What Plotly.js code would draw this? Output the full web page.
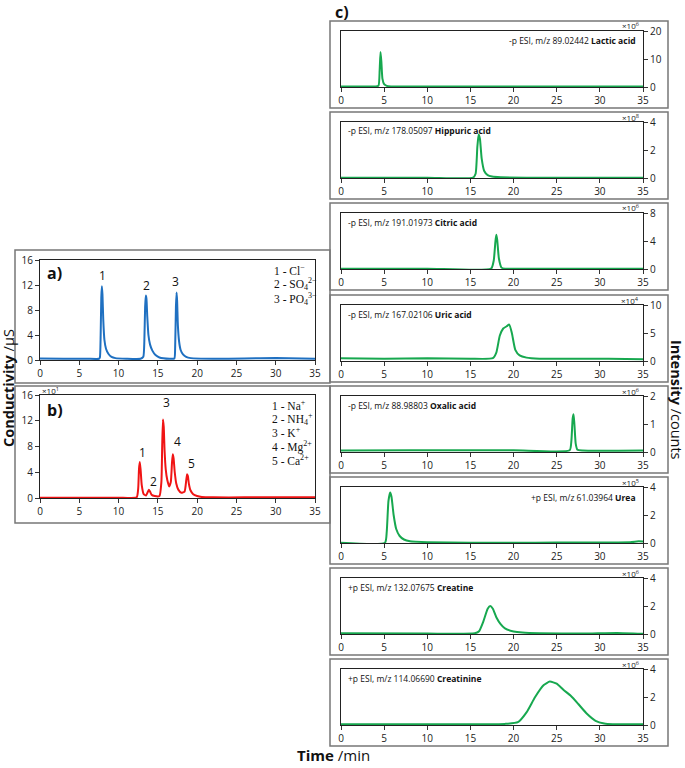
<!DOCTYPE html>
<html>
<head>
<meta charset="utf-8">
<script src="https://cdn.plot.ly/plotly-3.0.1.min.js"></script>
<style>
  body { margin: 0; background: #fff; }
  #container { width: 685px; height: 768px; }
</style>
</head>
<body>
<div id="container"></div>
<script>
// a) anions, conductivity /uS
var anionTime = [0, 3, 6, 7.5, 7.62, 7.72, 7.8, 7.87, 7.95, 8.05, 8.2, 8.4, 8.7, 9.1, 9.6, 11, 12.8, 13.15, 13.28, 13.38, 13.47, 13.55, 13.65, 13.8, 14.0, 14.3, 14.7, 15.2, 16.5, 17.1, 17.2, 17.3, 17.38, 17.45, 17.55, 17.7, 17.9, 18.2, 18.6, 19.2, 22, 26, 30, 35];
var anionSignal = [0.25, 0.2, 0.2, 0.2, 0.4, 4, 10, 11.8, 10.5, 6.5, 3.2, 1.8, 1.0, 0.5, 0.3, 0.2, 0.2, 0.5, 3, 8.5, 10.3, 9.8, 7.0, 4.0, 2.5, 1.5, 0.8, 0.4, 0.2, 0.25, 2, 8.5, 10.8, 9.5, 5.5, 3, 1.6, 0.9, 0.5, 0.3, 0.2, 0.25, 0.3, 0.2];
var anionPeakTime = [7.9, 13.5, 17.3];
var anionPeakLabelY = [13.6, 12.0, 12.5];
var anionLegend = ['1 - Cl<sup>\u2212</sup>', '2 - SO<sub>4</sub><sup>2\u2212</sup>', '3 - PO<sub>4</sub><sup>3\u2212</sup>'];

// b) cations, conductivity x10
var cationTime = [0, 5, 10, 12.3, 12.5, 12.6, 12.7, 12.8, 12.95, 13.2, 13.5, 13.7, 13.85, 14.0, 14.2, 14.6, 15.2, 15.45, 15.55, 15.65, 15.75, 15.85, 16.0, 16.2, 16.45, 16.65, 16.8, 16.9, 17.0, 17.15, 17.35, 17.6, 18.0, 18.4, 18.6, 18.72, 18.82, 18.95, 19.15, 19.5, 20, 20.6, 22, 26, 30, 35];
var cationSignal = [0.05, 0.05, 0.05, 0.1, 1.5, 4.5, 5.6, 4.5, 2.0, 0.6, 0.4, 0.9, 1.3, 1.0, 0.5, 0.3, 0.3, 2.5, 8, 12.2, 11, 7.5, 4.5, 2.8, 1.8, 2.5, 5.5, 6.8, 6.2, 4.0, 2.2, 1.3, 0.8, 1.0, 2.6, 3.7, 3.4, 2.2, 1.2, 0.6, 0.3, 0.15, 0.1, 0.1, 0.1, 0.1];
var cationPeakTime = [13.1, 14.4, 16.1, 17.5, 19.3];
var cationPeakLabelY = [7.1, 2.6, 14.9, 8.7, 5.4];
var cationLegend = ['1 - Na<sup>+</sup>', '2 - NH<sub>4</sub><sup>+</sup>', '3 - K<sup>+</sup>', '4 - Mg<sup>2+</sup>', '5 - Ca<sup>2+</sup>'];

// c) extracted ion chromatograms
var lacticTime = [0, 4, 4.35, 4.48, 4.58, 4.68, 4.8, 5.0, 5.3, 5.8, 10, 20, 35];
var lacticSignal = [0.2, 0.2, 0.5, 6, 12.5, 9, 3, 1, 0.4, 0.2, 0.2, 0.2, 0.2];
var hippuricTime = [0, 10, 15.3, 15.6, 15.8, 15.95, 16.1, 16.3, 16.6, 17.0, 17.5, 18.5, 25, 35];
var hippuricSignal = [0.02, 0.02, 0.02, 0.3, 2.2, 3.1, 2.8, 1.4, 0.5, 0.2, 0.1, 0.05, 0.02, 0.02];
var citricTime = [0, 10, 17.4, 17.7, 17.9, 18.0, 18.1, 18.3, 18.6, 19, 25, 35];
var citricSignal = [0.05, 0.05, 0.05, 1.2, 4.0, 4.9, 4.2, 1.5, 0.2, 0.05, 0.05, 0.05];
var uricTime = [0, 5, 10, 15, 17.6, 18.0, 18.4, 18.8, 19.2, 19.5, 19.8, 20.2, 20.7, 21.5, 23, 27, 31, 35];
var uricSignal = [0.5, 0.4, 0.5, 0.4, 0.5, 1.5, 4.5, 5.8, 6.2, 6.5, 5, 2, 1.0, 0.6, 0.4, 0.4, 0.4, 0.3];
var oxalicTime = [0, 8, 20, 26.5, 26.7, 26.85, 26.95, 27.05, 27.2, 27.4, 28, 35];
var oxalicSignal = [0.05, 0.06, 0.06, 0.06, 0.4, 1.2, 1.35, 1.0, 0.3, 0.08, 0.05, 0.05];
var ureaTime = [0, 5.1, 5.3, 5.5, 5.7, 5.85, 6.1, 6.4, 6.8, 7.3, 8, 10, 15, 20, 25, 30, 33.5, 34.5, 35];
var ureaSignal = [0.02, 0.02, 0.8, 3.0, 3.6, 3.3, 2.0, 1.0, 0.5, 0.25, 0.12, 0.06, 0.02, 0.02, 0.03, 0.04, 0.05, 0.12, 0.1];
var creatineTime = [0, 10, 15.5, 16.0, 16.5, 17.0, 17.3, 17.6, 18.0, 18.5, 19.0, 20, 21, 23, 28, 32, 35];
var creatineSignal = [0.05, 0.03, 0.05, 0.2, 0.9, 1.8, 2.0, 1.8, 1.2, 0.7, 0.4, 0.18, 0.1, 0.05, 0.03, 0.08, 0.02];
var creatinineTime = [0, 10, 15, 19, 20.5, 21.5, 22.5, 23.5, 24.2, 25, 25.8, 26.6, 27.5, 28.5, 29.5, 30.5, 31.5, 33, 35];
var creatinineSignal = [0.05, 0.05, 0.05, 0.08, 0.2, 0.9, 2.0, 2.85, 3.1, 2.95, 2.5, 2.1, 1.5, 0.8, 0.3, 0.1, 0.05, 0.05, 0.05];

var ionLabels = [
    '-p ESI, m/z 89.02442 <b>Lactic acid</b>',
    '-p ESI, m/z 178.05097 <b>Hippuric acid</b>',
    '-p ESI, m/z 191.01973 <b>Citric acid</b>',
    '-p ESI, m/z 167.02106 <b>Uric acid</b>',
    '-p ESI, m/z 88.98803 <b>Oxalic acid</b>',
    '+p ESI, m/z 61.03964 <b>Urea</b>',
    '+p ESI, m/z 132.07675 <b>Creatine</b>',
    '+p ESI, m/z 114.06690 <b>Creatinine</b>'
];
var ionExponents = [6, 8, 6, 4, 6, 5, 6, 6];
var ionRangeMax = [20, 4, 8, 10, 2, 4, 4, 4];
var ionDtick = [10, 2, 4, 5, 1, 2, 2, 2];
var ionTimes = [lacticTime, hippuricTime, citricTime, uricTime, oxalicTime, ureaTime, creatineTime, creatinineTime];
var ionSignals = [lacticSignal, hippuricSignal, citricSignal, uricSignal, oxalicSignal, ureaSignal, creatineSignal, creatinineSignal];
var ionLabelRight = [true, false, false, false, false, true, false, false];

var W = 685, H = 768;
function px(x) { return x / W; }
function py(y) { return 1 - y / H; }

var tickFont = { family: 'Open Sans, sans-serif', size: 10, color: '#222' };
var data = [];
var shapes = [];
var annotations = [];
var layout = {
    width: W,
    height: H,
    margin: { l: 0, r: 0, t: 0, b: 0 },
    plot_bgcolor: '#fff',
    paper_bgcolor: '#fff',
    showlegend: false,
    font: { family: 'Open Sans, sans-serif', color: '#111' }
};

function xAxis(left, right, anchor) {
    return {
        domain: [px(left), px(right)], anchor: anchor, range: [0, 35], dtick: 5,
        ticks: 'outside', ticklen: 4, tickcolor: '#333', showline: true, linecolor: '#222',
        linewidth: 1, mirror: true, showgrid: false, zeroline: false, tickfont: tickFont
    };
}
function yAxis(topPx, bottomPx, anchor, max, dtick, side) {
    return {
        domain: [py(bottomPx), py(topPx)], anchor: anchor, range: [0, max], dtick: dtick, side: side,
        ticks: 'outside', ticklen: 4, tickcolor: '#333', showline: true, linecolor: '#222',
        linewidth: 1, mirror: true, showgrid: false, zeroline: false, tickfont: tickFont
    };
}
function note(text, x, y, opts) {
    var a = { text: text, xref: 'paper', yref: 'paper', x: px(x), y: py(y), showarrow: false,
              xanchor: 'left', yanchor: 'middle', font: { size: 10, color: '#111' } };
    for (var k in opts) a[k] = opts[k];
    annotations.push(a);
}
function box(x0, y0, x1, y1) {
    shapes.push({ type: 'rect', xref: 'paper', yref: 'paper', x0: px(x0), x1: px(x1),
                  y0: py(y1), y1: py(y0), line: { color: '#777', width: 1.5 } });
}

// left column
data.push({ x: anionTime, y: anionSignal, xaxis: 'x', yaxis: 'y', mode: 'lines', type: 'scatter',
            line: { color: '#1f70c1', width: 2, shape: 'spline', smoothing: 0.5 } });
data.push({ x: cationTime, y: cationSignal, xaxis: 'x2', yaxis: 'y2', mode: 'lines', type: 'scatter',
            line: { color: '#f01414', width: 2, shape: 'spline', smoothing: 0.5 } });
layout.xaxis = xAxis(40, 315, 'y');
layout.yaxis = yAxis(260, 360, 'x', 16, 4, 'left');
layout.xaxis2 = xAxis(40, 315, 'y2');
layout.yaxis2 = yAxis(395, 498, 'x2', 16, 4, 'left');
box(15, 250, 330, 383);
box(15, 386, 330, 523);

anionPeakTime.forEach(function(t, i) {
    annotations.push({ text: String(i + 1), x: t, y: anionPeakLabelY[i], xref: 'x', yref: 'y',
                       showarrow: false, font: { size: 12, color: '#111' } });
});
cationPeakTime.forEach(function(t, i) {
    annotations.push({ text: String(i + 1), x: t, y: cationPeakLabelY[i], xref: 'x2', yref: 'y2',
                       showarrow: false, font: { size: 12, color: '#111' } });
});
var serif = { family: 'Liberation Serif, serif', size: 11.5, color: '#111' };
anionLegend.forEach(function(s, i) { note(s, 272, 270 + i * 14.5, { font: serif }); });
cationLegend.forEach(function(s, i) { note(s, 270, 405 + i * 13.7, { font: serif }); });
note('<b>a)</b>', 45, 273, { font: { size: 16, color: '#111' } });
note('<b>b)</b>', 45, 410, { font: { size: 16, color: '#111' } });
note('\u00d710<sup>1</sup>', 40, 390, { font: { size: 8, color: '#222' } });

// right column
var baselines = [87, 178, 269, 361, 452, 543, 634, 725];
for (var i = 0; i < 8; i++) {
    var n = i + 3;
    var base = baselines[i];
    var plotTop = base - 56;
    data.push({ x: ionTimes[i], y: ionSignals[i], xaxis: 'x' + n, yaxis: 'y' + n, mode: 'lines',
                type: 'scatter', line: { color: '#17a84f', width: 2, shape: 'spline', smoothing: 0.5 } });
    layout['xaxis' + n] = xAxis(341, 643, 'y' + n);
    layout['yaxis' + n] = yAxis(plotTop, base, 'x' + n, ionRangeMax[i], ionDtick[i], 'right');
    box(330, base - 66, 668, base + 21);
    note('\u00d710<sup>' + ionExponents[i] + '</sup>', 641, plotTop - 5,
         { xanchor: 'right', font: { size: 8, color: '#222' } });
    if (ionLabelRight[i]) {
        note(ionLabels[i], 638, plotTop + 10, { xanchor: 'right', font: { size: 8.5, color: '#111' } });
    } else {
        note(ionLabels[i], 346, plotTop + 9, { font: { size: 8.5, color: '#111' } });
    }
}
note('<b>c)</b>', 333, 12, { font: { size: 16, color: '#111' } });

// axis titles
note('<b>Conductivity</b> /\u00b5S', 8, 388, { xanchor: 'center', textangle: -90, font: { size: 14.5, color: '#111' } });
note('<b>Intensity</b> /counts', 677, 400, { xanchor: 'center', textangle: 90, font: { size: 14.5, color: '#111' } });
note('<b>Time</b> /min', 333, 755, { xanchor: 'center', font: { size: 15, color: '#111' } });

layout.shapes = shapes;
layout.annotations = annotations;

Plotly.newPlot('container', data, layout, { displayModeBar: false, staticPlot: true });
</script>
</body>
</html>
